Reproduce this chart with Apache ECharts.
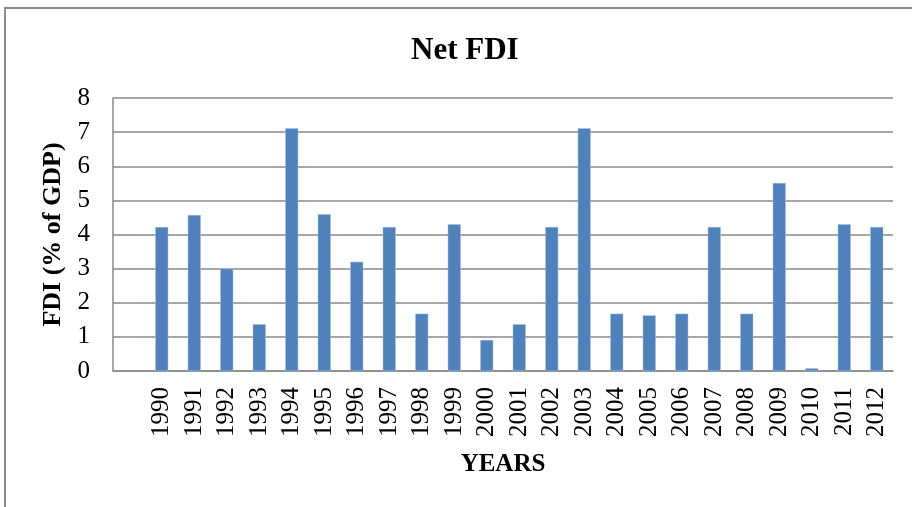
<!DOCTYPE html>
<html><head><meta charset="utf-8">
<script src="https://cdn.jsdelivr.net/npm/echarts@6/dist/echarts.min.js"></script>
<style>html,body{margin:0;padding:0;background:#fff}#c{width:912px;height:507px}</style>
</head><body><div id="c"></div>
<script>
const categories = ['', '1990','1991','1992','1993','1994','1995','1996','1997','1998','1999','2000','2001','2002','2003','2004','2005','2006','2007','2008','2009','2010','2011','2012'];
const fdiValues = [null, 4.22, 4.57, 3.0, 1.37, 7.11, 4.59, 3.2, 4.22, 1.68, 4.3, 0.91, 1.37, 4.22, 7.11, 1.68, 1.63, 1.68, 4.22, 1.68, 5.51, 0.08, 4.3, 4.22];
const yTicks = [0, 1, 2, 3, 4, 5, 6, 7, 8];
const titleText = 'Net FDI';
const yName = 'FDI (% of GDP)';
const xName = 'YEARS';

const serif = "'Liberation Serif','Times New Roman',serif";
const chart = echarts.init(document.getElementById('c'), null, {renderer: 'canvas'});
chart.setOption({
  animation: false,
  backgroundColor: '#fff',
  graphic: [{
    type: 'rect', shape: {x: 5, y: 8, width: 940, height: 540},
    style: {fill: 'none', stroke: '#8c8c8c', lineWidth: 2}, silent: true
  }],
  title: {
    text: titleText, left: 406, top: 30,
    textStyle: {fontFamily: serif, fontWeight: 'bold', fontSize: 31, color: '#000'}
  },
  grid: {left: 113, right: 19, top: 98, bottom: 136, containLabel: false},
  xAxis: {
    type: 'category', data: categories,
    name: xName, nameLocation: 'middle', nameGap: 81,
    nameTextStyle: {fontFamily: serif, fontWeight: 'bold', fontSize: 25, color: '#000'},
    axisLine: {lineStyle: {color: '#8a8a8a', width: 1.5}},
    axisTick: {show: false},
    axisLabel: {rotate: 90, interval: 0, margin: 16, fontFamily: serif, fontSize: 25, color: '#000'}
  },
  yAxis: {
    type: 'value', min: 0, max: 8, interval: 1,
    name: yName, nameLocation: 'middle', nameGap: 41, nameRotate: 90,
    nameTextStyle: {fontFamily: serif, fontWeight: 'bold', fontSize: 26, color: '#000'},
    axisLine: {show: true, lineStyle: {color: '#8a8a8a', width: 1.5}},
    axisTick: {show: false},
    axisLabel: {margin: 23, fontFamily: serif, fontSize: 25, color: '#000',
      formatter: v => yTicks.includes(v) ? String(v) : ''},
    splitLine: {lineStyle: {color: '#8a8a8a', width: 1.5}}
  },
  series: [{
    type: 'bar', data: fdiValues, barWidth: 13,
    itemStyle: {color: '#4f81bd', borderColor: '#a9c0df', borderWidth: 0.5}
  }]
});
</script></body></html>
